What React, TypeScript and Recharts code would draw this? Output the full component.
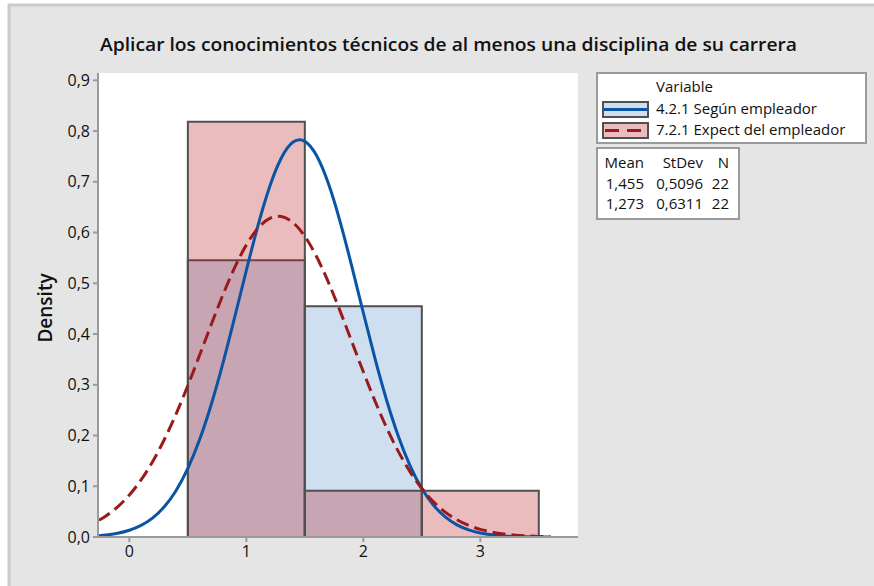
import React from 'react';
import { ComposedChart, Line, XAxis, YAxis, ReferenceArea, CartesianGrid } from 'recharts';

// ---- data ----
const titleText = 'Aplicar los conocimientos técnicos de al menos una disciplina de su carrera';
const yLabel = 'Density';
const legendTitle = 'Variable';
const seriesNames = ['4.2.1 Según empleador', '7.2.1 Expect del empleador'];
const statHeader = ['Mean', 'StDev', 'N'];
const statRows = [
  ['1,455', '0,5096', '22'],
  ['1,273', '0,6311', '22'],
];

const binEdges = [0.5, 1.5, 2.5, 3.5];
const blueDensity = [0.5455, 0.4545, 0];
const redDensity = [0.8182, 0.0909, 0.0909];

const curveX = [
  -0.26, -0.2, -0.1, 0.0, 0.1, 0.2, 0.3, 0.4, 0.5, 0.6, 0.7, 0.8, 0.9, 1.0, 1.1, 1.2, 1.3, 1.4, 1.5, 1.6,
  1.7, 1.8, 1.9, 2.0, 2.1, 2.2, 2.3, 2.4, 2.5, 2.6, 2.7, 2.8, 2.9, 3.0, 3.1, 3.2, 3.3, 3.4, 3.5, 3.6,
];
const blueCurve = [
  0.0027, 0.004, 0.0075, 0.0133, 0.0228, 0.0377, 0.06, 0.0918, 0.1352, 0.1916, 0.2612, 0.3427, 0.4327, 0.5255,
  0.6141, 0.6907, 0.7474, 0.7783, 0.7797, 0.7517, 0.6974, 0.6225, 0.5347, 0.4419, 0.3514, 0.2689, 0.198, 0.1403,
  0.0956, 0.0627, 0.0396, 0.024, 0.0141, 0.0079, 0.0043, 0.0022, 0.0011, 0.0005, 0.0002, 0.0001,
];
const redCurve = [
  0.0331, 0.0415, 0.0593, 0.0827, 0.1124, 0.149, 0.1926, 0.2428, 0.2985, 0.358, 0.4186, 0.4773, 0.5308, 0.5757,
  0.6088, 0.6279, 0.6315, 0.6195, 0.5925, 0.5527, 0.5028, 0.4461, 0.3859, 0.3255, 0.2679, 0.2149, 0.1682, 0.1283,
  0.0955, 0.0693, 0.049, 0.0339, 0.0228, 0.015, 0.0096, 0.006, 0.0036, 0.0022, 0.0012, 0.0007,
];

const xTicks = [0, 1, 2, 3];
const yTicks = [0, 0.1, 0.2, 0.3, 0.4, 0.5, 0.6, 0.7, 0.8, 0.9];
const xDomain: [number, number] = [-0.268, 3.835];
const yDomain: [number, number] = [0, 0.9144];

const data = curveX.map((x, i) => ({ x, blue: blueCurve[i], red: redCurve[i] }));

// ---- styles ----
const BLUE_LINE = '#0a54a4';
const RED_LINE = '#9a1a1c';
const BLUE_FILL = '#5f94cd';
const RED_FILL = '#b92023';
const FILL_OP = 0.3;
const BAR_EDGE = '#505050';
const AXIS = '#9a9a9a';
const FONT = "'Open Sans', 'Noto Sans', sans-serif";

const fmt = (v: number) => v.toFixed(1).replace('.', ',');

export default function App() {
  return (
    <div style={{ position: 'absolute', left: 0, top: 0, width: 874, height: 586, background: '#fff', fontFamily: FONT }}>
      <svg width={874} height={586} style={{ position: 'absolute', left: 0, top: 0 }}>
        <rect x={8} y={4} width={866} height={582} fill="#e5e5e5" />
        <line x1={9} y1={4} x2={9} y2={586} stroke="#cbcbcb" strokeWidth={3} />
        <line x1={8} y1={5} x2={874} y2={5} stroke="#cbcbcb" strokeWidth={3} />
      </svg>
      <div style={{ position: 'absolute', left: 0, top: 0 }}>
        <ComposedChart width={874} height={586} data={data} margin={{ top: 73, right: 296, bottom: 19, left: 38 }}>
          <CartesianGrid horizontal={false} vertical={false} fill="#ffffff" stroke="none" />
          {binEdges.slice(0, -1).map((e, i) =>
            blueDensity[i] > 0 ? (
              <ReferenceArea
                key={'b' + i}
                x1={e}
                x2={binEdges[i + 1]}
                y1={0}
                y2={blueDensity[i]}
                fill={BLUE_FILL}
                fillOpacity={FILL_OP}
                stroke={BAR_EDGE}
                strokeWidth={2}
                ifOverflow="visible"
              />
            ) : null
          )}
          {binEdges.slice(0, -1).map((e, i) =>
            redDensity[i] > 0 ? (
              <ReferenceArea
                key={'r' + i}
                x1={e}
                x2={binEdges[i + 1]}
                y1={0}
                y2={redDensity[i]}
                fill={RED_FILL}
                fillOpacity={FILL_OP}
                stroke={BAR_EDGE}
                strokeWidth={2}
                ifOverflow="visible"
              />
            ) : null
          )}
          <XAxis
            dataKey="x"
            type="number"
            domain={xDomain}
            ticks={xTicks}
            allowDataOverflow
            interval={0}
            height={30}
            tickSize={5}
            tickMargin={4}
            axisLine={{ stroke: AXIS, strokeWidth: 2 }}
            tickLine={{ stroke: AXIS, strokeWidth: 2 }}
            tick={{ fill: '#111', fontSize: 16 }}
          />
          <XAxis
            xAxisId="top"
            orientation="top"
            dataKey="x"
            type="number"
            domain={xDomain}
            allowDataOverflow
            height={0}
            tick={false}
            tickLine={false}
            axisLine={{ stroke: AXIS, strokeWidth: 2 }}
          />
          <YAxis
            type="number"
            domain={yDomain}
            ticks={yTicks}
            allowDataOverflow
            interval={0}
            width={60}
            tickSize={5}
            tickMargin={3}
            tickFormatter={fmt}
            axisLine={{ stroke: AXIS, strokeWidth: 2 }}
            tickLine={{ stroke: AXIS, strokeWidth: 2 }}
            tick={{ fill: '#111', fontSize: 16 }}
          />
          <YAxis
            yAxisId="right"
            orientation="right"
            type="number"
            domain={yDomain}
            allowDataOverflow
            width={0}
            tick={false}
            tickLine={false}
            axisLine={{ stroke: AXIS, strokeWidth: 2 }}
          />
          <Line
            dataKey="blue"
            type="natural"
            stroke={BLUE_LINE}
            strokeWidth={3}
            dot={false}
            activeDot={false}
            isAnimationActive={false}
          />
          <Line
            dataKey="red"
            type="natural"
            stroke={RED_LINE}
            strokeWidth={3}
            strokeDasharray="13 6"
            dot={false}
            activeDot={false}
            isAnimationActive={false}
          />
        </ComposedChart>
      </div>
      <svg width={874} height={586} style={{ position: 'absolute', left: 0, top: 0, pointerEvents: 'none' }}>
        <text x={448.5} y={51} textAnchor="middle" fontSize={18} fontWeight={600} fill="#111" textLength={697} lengthAdjust="spacingAndGlyphs">
          {titleText}
        </text>
        <text transform="translate(52,308) rotate(-90)" textAnchor="middle" fontSize={19} fontWeight={600} fill="#111">
          {yLabel}
        </text>
        {/* legend box */}
        <rect x={597} y={73} width={269} height={70} fill="#fff" stroke={AXIS} strokeWidth={2} />
        <text x={656} y={92} fontSize={15} fill="#111">{legendTitle}</text>
        <rect x={603} y={102} width={45} height={15} fill={BLUE_FILL} fillOpacity={FILL_OP} stroke={BAR_EDGE} strokeWidth={2} />
        <line x1={604} y1={109.5} x2={647} y2={109.5} stroke={BLUE_LINE} strokeWidth={3} />
        <text x={656} y={114} fontSize={15} fill="#111">{seriesNames[0]}</text>
        <rect x={603} y={123} width={45} height={15} fill={RED_FILL} fillOpacity={FILL_OP} stroke={BAR_EDGE} strokeWidth={2} />
        <line x1={605} y1={130.5} x2={647} y2={130.5} stroke={RED_LINE} strokeWidth={3} strokeDasharray="14 8" />
        <text x={656} y={135} fontSize={15} fill="#111">{seriesNames[1]}</text>
        {/* stats box */}
        <rect x={597} y={148} width={142} height={71} fill="#fff" stroke={AXIS} strokeWidth={2} />
        {[statHeader, ...statRows].map((row, r) => (
          <g key={r}>
            {row.map((cell, c) => (
              <text key={c} x={[644, 703, 729][c]} y={168 + r * 20.5} textAnchor="end" fontSize={15} fill="#111">
                {cell}
              </text>
            ))}
          </g>
        ))}
      </svg>
    </div>
  );
}
